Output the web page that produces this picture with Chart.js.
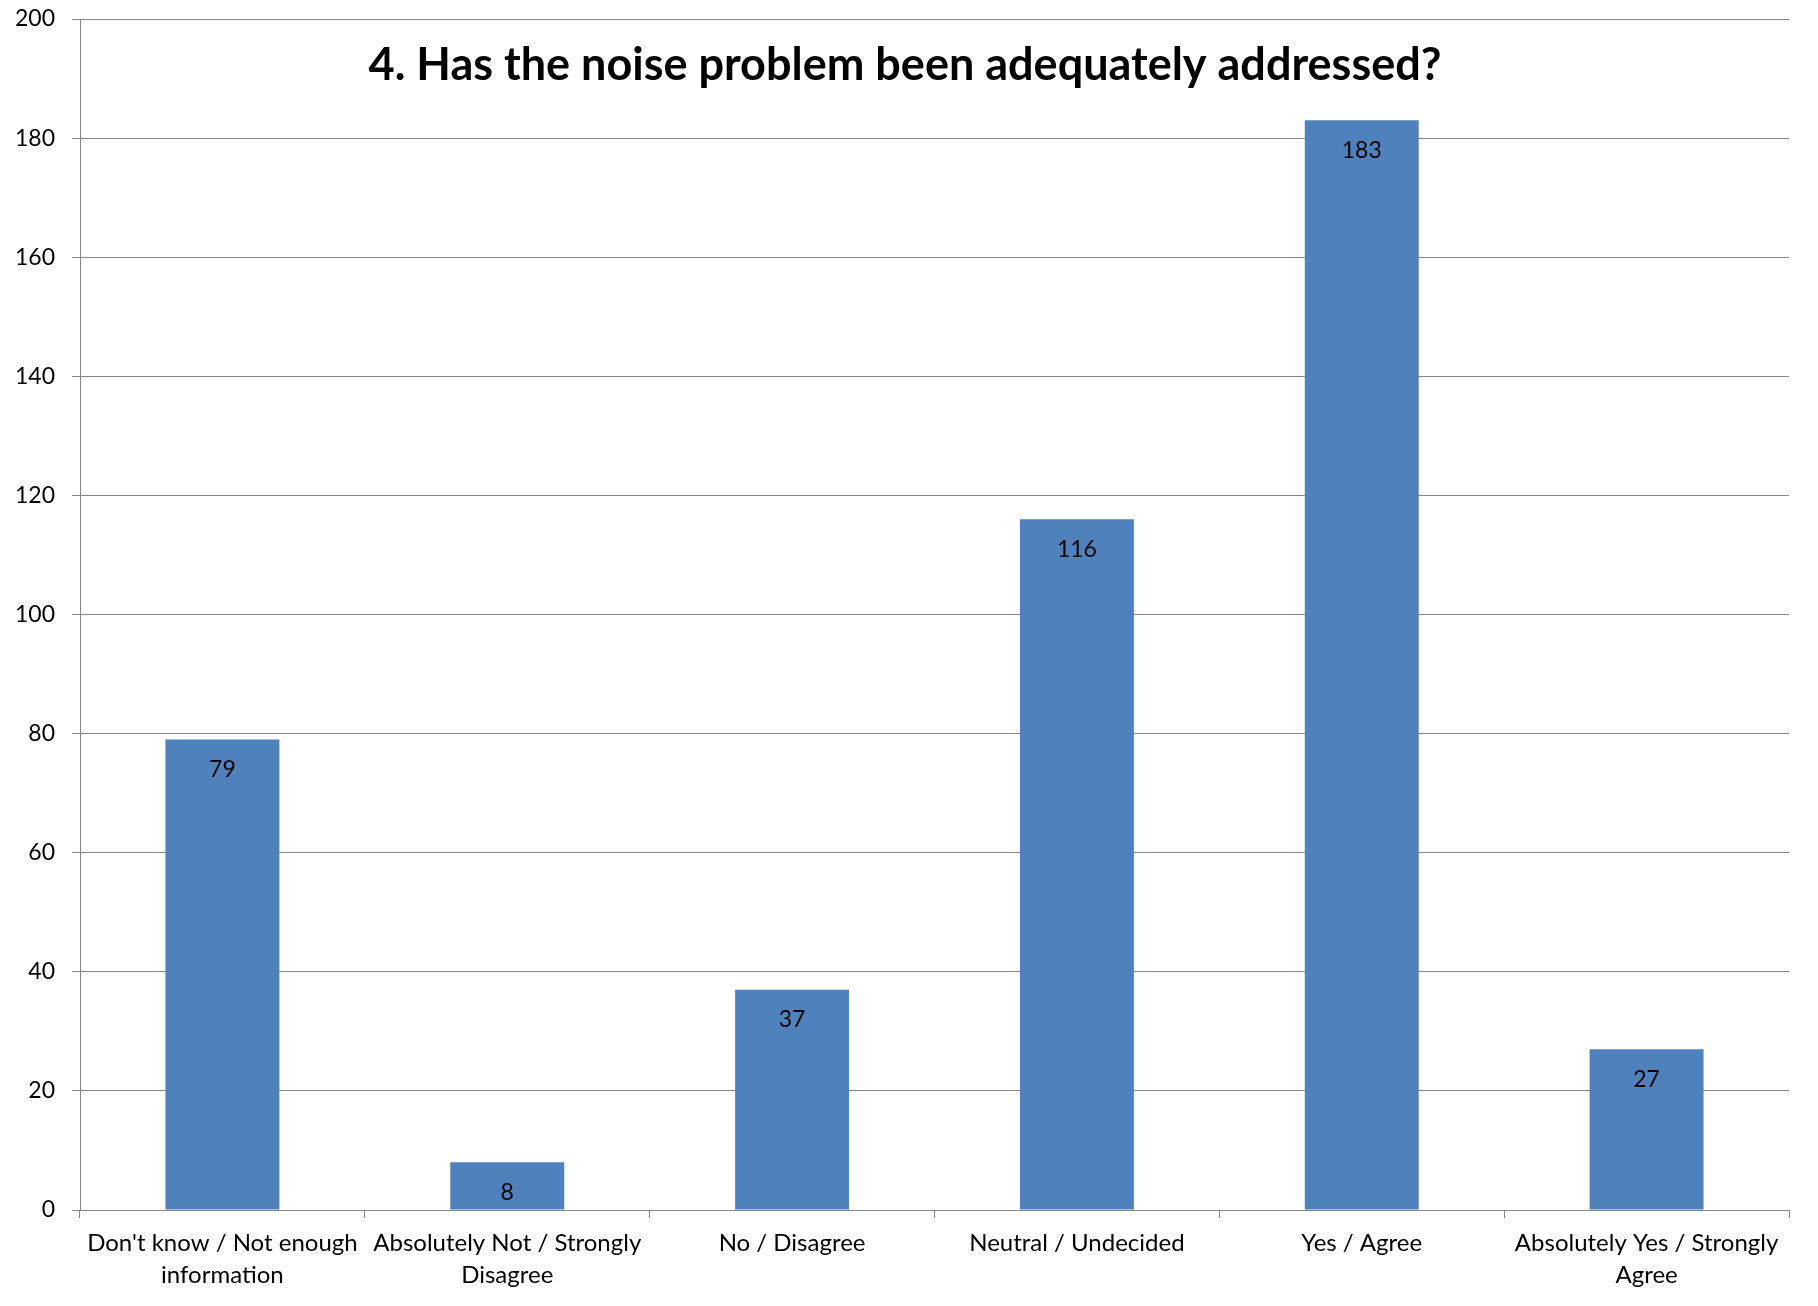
<!DOCTYPE html>
<html>
<head>
<meta charset="utf-8">
<script src="https://cdn.jsdelivr.net/npm/chart.js@4"></script>
<style>
  html, body { margin: 0; padding: 0; background: #ffffff; }
  #wrap { width: 1818px; height: 1306px; }
</style>
</head>
<body>
<div id="wrap"><canvas id="c" width="1818" height="1306"></canvas></div>
<script>
const titleText = "4. Has the noise problem been adequately addressed?";
const categories = [
  ["Don't know / Not enough", "information"],
  ["Absolutely Not / Strongly", "Disagree"],
  ["No / Disagree"],
  ["Neutral / Undecided"],
  ["Yes / Agree"],
  ["Absolutely Yes / Strongly", "Agree"]
];
const counts = [79, 8, 37, 116, 183, 27];
const yMin = 0;
const yMax = 200;
const yStep = 20;

const FONT = "Lato";
const AXIS_GREY = "#868686";
const BAR_BLUE = "#4F81BD";

const titlePlugin = {
  id: "innerTitle",
  afterDraw(chart) {
    const ctx = chart.ctx;
    ctx.save();
    ctx.font = "bold 45px " + FONT;
    ctx.fillStyle = "#000000";
    ctx.textAlign = "center";
    ctx.textBaseline = "alphabetic";
    ctx.fillText(titleText, chart.width / 2 - 4, chart.chartArea.top + 61);
    ctx.restore();
  }
};

const valueLabels = {
  id: "valueLabels",
  afterDatasetsDraw(chart) {
    const ctx = chart.ctx;
    ctx.save();
    ctx.font = "23px " + FONT;
    ctx.fillStyle = "#000000";
    ctx.textAlign = "center";
    ctx.textBaseline = "middle";
    chart.data.datasets.forEach((ds, di) => {
      const meta = chart.getDatasetMeta(di);
      meta.data.forEach((el, i) => {
        ctx.fillText(String(ds.data[i]), el.x, el.y + 30);
      });
    });
    ctx.restore();
  }
};

new Chart(document.getElementById("c"), {
  type: "bar",
  data: {
    labels: categories,
    datasets: [{
      data: counts,
      backgroundColor: BAR_BLUE,
      borderWidth: 0,
      barPercentage: 0.4,
      categoryPercentage: 1.0
    }]
  },
  options: {
    responsive: false,
    animation: false,
    devicePixelRatio: 1,
    layout: { padding: { top: 19, right: 29, left: 0, bottom: 0 } },
    plugins: {
      legend: { display: false },
      title: { display: false },
      tooltip: { enabled: false }
    },
    scales: {
      x: {
        offset: true,
        grid: {
          display: true,
          drawOnChartArea: false,
          drawTicks: true,
          tickLength: 8,
          color: AXIS_GREY,
          offset: true
        },
        border: { display: true, color: AXIS_GREY, width: 1 },
        ticks: {
          autoSkip: false,
          maxRotation: 0,
          minRotation: 0,
          padding: 9,
          color: "#000000",
          font: { family: FONT, size: 24, lineHeight: 1.34 }
        },
        afterFit(scale) {
          scale.height = 96;
          scale.paddingLeft = 0;
          scale.paddingRight = 0;
        }
      },
      y: {
        min: yMin,
        max: yMax,
        grid: {
          color: AXIS_GREY,
          lineWidth: 1,
          tickLength: 8,
          drawTicks: true
        },
        border: { display: true, color: AXIS_GREY, width: 1 },
        ticks: {
          stepSize: yStep,
          padding: 17,
          color: "#000000",
          font: { family: FONT, size: 23 }
        },
        afterFit(scale) {
          scale.width = 80;
          scale.paddingTop = 0;
          scale.paddingBottom = 0;
        }
      }
    }
  },
  plugins: [titlePlugin, valueLabels]
});
</script>
</body>
</html>
